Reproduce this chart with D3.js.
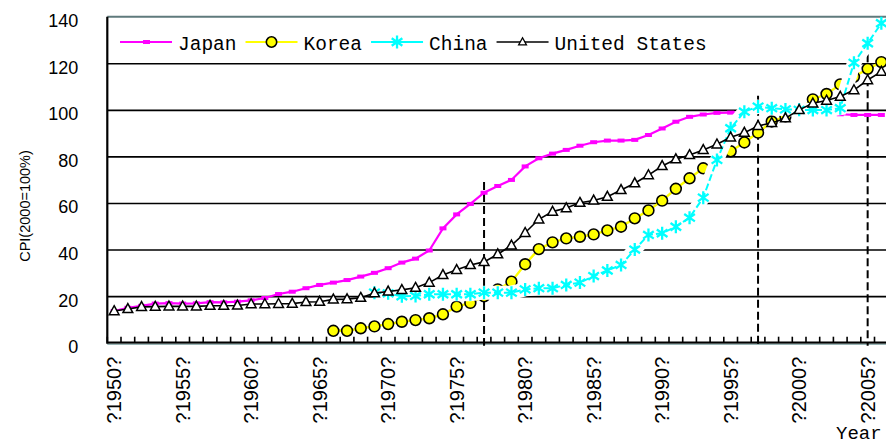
<!DOCTYPE html>
<html>
<head>
<meta charset="utf-8">
<script src="https://cdn.jsdelivr.net/npm/d3@7"></script>
<style>
  body { margin: 0; background: #fff; }
  svg { display: block; }
</style>
</head>
<body>
<div id="chart"></div>
<script>
// categories
var years = d3.range(1950, 2007);
var labelYears = [1950, 1955, 1960, 1965, 1970, 1975, 1980, 1985, 1990, 1995, 2000, 2005];
var yTicks = [0, 20, 40, 60, 80, 100, 120, 140];

// CPI, 2000 = 100
var japan = [13.6, 15.0, 15.8, 16.8, 17.0, 16.8, 16.9, 17.4, 17.3, 17.6,
  18.2, 19.2, 20.9, 21.9, 23.4, 24.8, 25.8, 26.9, 28.4, 30.0,
  32.0, 34.4, 36.1, 39.6, 49.1, 55.1, 59.6, 64.4, 67.3, 69.9,
  75.7, 79.2, 81.2, 82.8, 84.6, 86.1, 86.8, 86.8, 87.1, 89.2,
  92.0, 94.9, 97.0, 98.0, 98.7, 98.8, 98.9, 100.6, 101.2, 100.9,
  100.2, 99.4, 98.5, 98.1, 97.8, 97.8, 97.8];
var korea = [null, null, null, null, null, null, null, null, null, null,
  null, null, null, null, null, null, 5.1, 5.1, 6.2, 7.0,
  8.0, 9.0, 9.7, 10.5, 12.2, 15.5, 17.1, 19.9, 22.9, 26.2,
  33.7, 40.2, 43.1, 44.8, 45.5, 46.5, 48.2, 49.8, 53.4, 56.8,
  61.0, 66.1, 70.6, 74.9, 78.6, 82.2, 86.0, 90.2, 95.0, 97.2,
  100.0, 104.5, 106.8, 110.9, 114.2, 117.6, 120.5];
var china = [null, null, null, null, null, null, null, null, null, null,
  null, null, null, null, null, null, null, null, null, 21.5,
  21.2, 19.9, 20.1, 20.8, 20.8, 20.8, 20.8, 21.5, 21.5, 21.5,
  22.9, 23.4, 23.4, 24.8, 25.8, 28.6, 31.0, 33.4, 40.0, 46.3,
  47.0, 49.8, 53.7, 62.3, 78.5, 92.1, 99.2, 101.4, 100.7, 100.2,
  100.0, 99.9, 99.9, 100.7, 120.2, 128.6, 137.2];
var usa = [13.6, 14.5, 15.4, 15.5, 15.6, 15.6, 15.6, 15.9, 15.9, 16.0,
  16.6, 16.6, 16.7, 16.8, 17.5, 17.6, 18.6, 18.7, 19.3, 21.3,
  22.0, 22.7, 23.6, 25.8, 29.1, 31.3, 33.4, 34.7, 38.0, 41.8,
  47.2, 53.0, 56.3, 57.8, 60.1, 61.1, 62.7, 65.6, 68.5, 72.0,
  75.9, 78.8, 80.6, 82.8, 85.2, 88.2, 90.2, 93.1, 94.4, 96.4,
  100.0, 102.8, 104.0, 105.7, 108.5, 112.8, 116.4];

// dashed period markers
var guideYears = [1977, 1997, 2005];
var guideTops = [69, 106, 129];

var width = 886, height = 444;
var margin = {top: 16.7, left: 107.3, bottom: 342.7};
var step = 13.7;

var svg = d3.select('#chart').append('svg')
  .attr('width', width)
  .attr('height', height);

var x = d3.scaleBand().domain(years).range([margin.left, margin.left + years.length * step]);
var y = d3.scaleLinear().domain([0, 140]).range([margin.bottom, margin.top]);
var right = x.range()[1];
var cx = function (i) { return x(years[i]) + x.bandwidth() / 2; };

// gridlines
svg.append('g')
  .attr('transform', 'translate(' + margin.left + ',0)')
  .call(d3.axisLeft(y).tickValues([20, 40, 60, 80, 100, 120]).tickSize(-(right - margin.left)).tickFormat(''))
  .call(function (g) { g.select('.domain').remove(); })
  .selectAll('line').attr('stroke', '#000').attr('stroke-width', 1.6);

// top border
svg.append('line')
  .attr('x1', margin.left).attr('x2', right)
  .attr('y1', y(140)).attr('y2', y(140))
  .attr('stroke', '#5f7a7c').attr('stroke-width', 2);

// y labels
var yAxis = svg.append('g')
  .attr('transform', 'translate(' + margin.left + ',0)')
  .call(d3.axisLeft(y).tickValues(yTicks).tickSize(0).tickPadding(29));
yAxis.select('.domain').remove();
yAxis.selectAll('text')
  .attr('dy', '0.55em')
  .style('font-family', '"Liberation Sans", Arial, sans-serif')
  .style('font-size', '18px')
  .attr('fill', '#000');

// x labels
var xAxis = svg.append('g')
  .attr('transform', 'translate(0,' + margin.bottom + ')')
  .call(d3.axisBottom(x).tickValues(labelYears).tickSize(0).tickFormat(function (d) { return '?' + d + '?'; }));
xAxis.select('.domain').remove();
xAxis.selectAll('text')
  .attr('transform', 'rotate(-90)')
  .attr('x', -14).attr('y', 0).attr('dy', '0.36em')
  .attr('text-anchor', 'end')
  .style('font-family', '"Liberation Sans", Arial, sans-serif')
  .style('font-size', '20px')
  .attr('fill', '#000');

// inner tick marks between categories
var bounds = years.map(function (d) { return x(d); }).concat([right]);
svg.append('g').selectAll('line')
  .data(bounds)
  .enter().append('line')
  .attr('x1', function (d) { return d; }).attr('x2', function (d) { return d; })
  .attr('y1', margin.bottom).attr('y2', margin.bottom - 6)
  .attr('stroke', '#000').attr('stroke-width', 1.6);

// axis lines
svg.append('line')
  .attr('x1', margin.left).attr('x2', margin.left)
  .attr('y1', margin.top).attr('y2', margin.bottom + 1)
  .attr('stroke', '#000').attr('stroke-width', 2.2);
svg.append('line')
  .attr('x1', margin.left).attr('x2', right)
  .attr('y1', margin.bottom).attr('y2', margin.bottom)
  .attr('stroke', '#000').attr('stroke-width', 2.2);
svg.append('line')
  .attr('x1', margin.left).attr('x2', right)
  .attr('y1', margin.bottom + 1.6).attr('y2', margin.bottom + 1.6)
  .attr('stroke', '#7fa3a3').attr('stroke-width', 1);

// dashed guides
svg.append('g').selectAll('line')
  .data(guideYears)
  .enter().append('line')
  .attr('x1', function (d) { return x(d) + x.bandwidth() / 2; })
  .attr('x2', function (d) { return x(d) + x.bandwidth() / 2; })
  .attr('y1', function (d, i) { return y(guideTops[i]); })
  .attr('y2', margin.bottom + 3)
  .attr('stroke', '#000').attr('stroke-width', 2)
  .attr('stroke-dasharray', '8,4');

var line = d3.line()
  .defined(function (d) { return d != null; })
  .x(function (d, i) { return cx(i); })
  .y(function (d) { return y(d); });

function pts(arr) {
  return arr.map(function (v, i) { return {v: v, i: i}; }).filter(function (d) { return d.v != null; });
}

var trianglePath = 'M0,-5.3L4.9,3.6L-4.9,3.6Z';
function starPath(s) {
  return 'M0,' + (-s) + 'L0,' + s +
    'M' + (-s * 0.82) + ',' + (-s * 0.57) + 'L' + (s * 0.82) + ',' + (s * 0.57) +
    'M' + (-s * 0.82) + ',' + (s * 0.57) + 'L' + (s * 0.82) + ',' + (-s * 0.57);
}

// Japan
svg.append('path').datum(japan)
  .attr('d', line).attr('fill', 'none')
  .attr('stroke', '#ff00ff').attr('stroke-width', 2.2);
svg.append('g').selectAll('rect')
  .data(pts(japan)).enter().append('rect')
  .attr('x', function (d) { return cx(d.i) - 3.5; })
  .attr('y', function (d) { return y(d.v) - 2; })
  .attr('width', 7).attr('height', 4)
  .attr('fill', '#ff00ff');

// Korea
svg.append('path').datum(korea)
  .attr('d', line).attr('fill', 'none')
  .attr('stroke', '#ffff00').attr('stroke-width', 2.4);
svg.append('g').selectAll('circle')
  .data(pts(korea)).enter().append('circle')
  .attr('cx', function (d) { return cx(d.i); })
  .attr('cy', function (d) { return y(d.v); })
  .attr('r', 5.4)
  .attr('fill', '#ffff00').attr('stroke', '#000').attr('stroke-width', 1.6);

// China (white backing under a dashed cyan line)
svg.append('path').datum(china)
  .attr('d', line).attr('fill', 'none')
  .attr('stroke', '#fff').attr('stroke-width', 14);
svg.append('path').datum(china)
  .attr('d', line).attr('fill', 'none')
  .attr('stroke', '#00ffff').attr('stroke-width', 2)
  .attr('stroke-dasharray', '7,3');
svg.append('g').selectAll('path')
  .data(pts(china)).enter().append('path')
  .attr('transform', function (d) { return 'translate(' + cx(d.i) + ',' + y(d.v) + ')'; })
  .attr('d', starPath(6.5))
  .attr('fill', 'none').attr('stroke', '#00ffff').attr('stroke-width', 2.3);

// United States
svg.append('path').datum(usa)
  .attr('d', line).attr('fill', 'none')
  .attr('stroke', '#000').attr('stroke-width', 1.6);
svg.append('g').selectAll('path')
  .data(pts(usa)).enter().append('path')
  .attr('transform', function (d) { return 'translate(' + cx(d.i) + ',' + y(d.v) + ')'; })
  .attr('d', trianglePath)
  .attr('fill', '#fff').attr('stroke', '#000').attr('stroke-width', 1.5);

// legend
var legendItems = [
  {name: 'Japan', color: '#ff00ff', marker: 'rect'},
  {name: 'Korea', color: '#ffff00', marker: 'circle'},
  {name: 'China', color: '#00ffff', marker: 'star'},
  {name: 'United States', color: '#000', marker: 'tri'}
];
var legend = svg.append('g').attr('transform', 'translate(0,42)');
var lx = 120;
legendItems.forEach(function (d) {
  var g = legend.append('g').attr('transform', 'translate(' + lx + ',0)');
  g.append('line').attr('x1', 0).attr('x2', 52)
    .attr('stroke', d.color).attr('stroke-width', d.marker === 'tri' ? 1.6 : 2.2);
  if (d.marker === 'rect') {
    g.append('rect').attr('x', 23).attr('y', -2).attr('width', 7).attr('height', 4).attr('fill', d.color);
  } else if (d.marker === 'circle') {
    g.append('circle').attr('cx', 26).attr('cy', 0).attr('r', 5.2)
      .attr('fill', d.color).attr('stroke', '#000').attr('stroke-width', 1.6);
  } else if (d.marker === 'star') {
    g.append('path').attr('transform', 'translate(26,0)').attr('d', starPath(6.5))
      .attr('fill', 'none').attr('stroke', d.color).attr('stroke-width', 2.3);
  } else {
    g.append('path').attr('transform', 'translate(26,0) scale(0.8)').attr('d', trianglePath)
      .attr('fill', '#fff').attr('stroke', '#000').attr('stroke-width', 1.6);
  }
  var t = g.append('text').attr('x', 58).attr('y', 7.5)
    .style('font-family', '"Liberation Mono", "DejaVu Sans Mono", monospace')
    .style('font-size', '19.5px')
    .attr('fill', '#000')
    .text(d.name);
  lx += 58 + t.node().getComputedTextLength() + 9;
});

// axis titles
svg.append('text')
  .attr('transform', 'translate(25,206) rotate(-90)')
  .attr('text-anchor', 'middle').attr('dy', '0.35em')
  .style('font-family', '"Liberation Sans", Arial, sans-serif')
  .style('font-size', '14.5px')
  .attr('fill', '#000')
  .text('CPI(2000=100%)');
svg.append('text')
  .attr('x', 836).attr('y', 439)
  .style('font-family', '"Liberation Mono", "DejaVu Sans Mono", monospace')
  .style('font-size', '19px')
  .attr('fill', '#000')
  .text('Year');
</script>
</body>
</html>
